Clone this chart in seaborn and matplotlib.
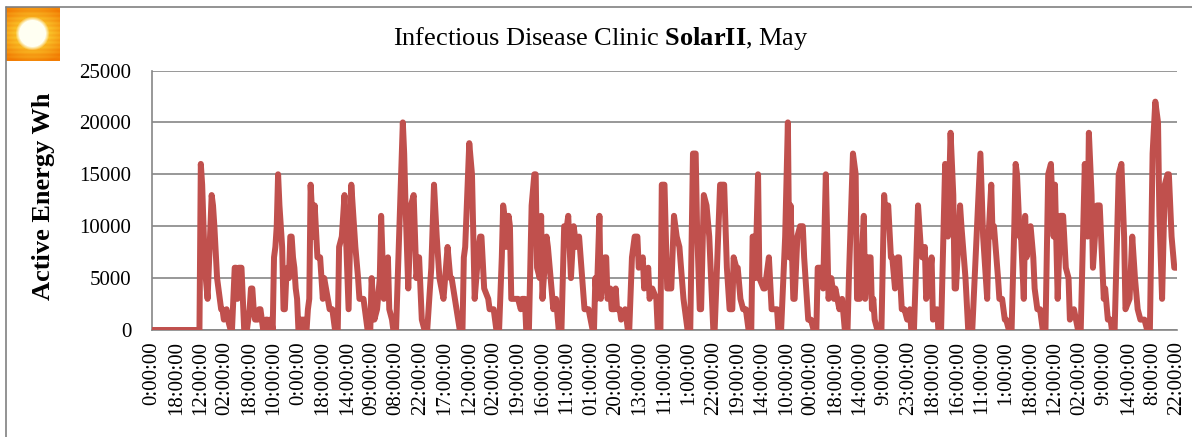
import numpy as np
import pandas as pd
import matplotlib
matplotlib.use('Agg')
import matplotlib.pyplot as plt
from matplotlib.lines import Line2D
import seaborn as sns

tick_labels = ['0:00:00', '18:00:00', '12:00:00', '02:00:00', '18:00:00', '10:00:00', '0:00:00',
               '18:00:00', '14:00:00', '09:00:00', '08:00:00', '22:00:00', '17:00:00', '12:00:00',
               '02:00:00', '19:00:00', '16:00:00', '11:00:00', '01:00:00', '20:00:00', '13:00:00',
               '11:00:00', '1:00:00', '22:00:00', '19:00:00', '14:00:00', '10:00:00', '00:00:00',
               '18:00:00', '14:00:00', '9:00:00', '23:00:00', '18:00:00', '16:00:00', '11:00:00',
               '1:00:00', '18:00:00', '12:00:00', '02:00:00', '9:00:00', '14:00:00', '8:00:00',
               '22:00:00']
yticks = [0, 5000, 10000, 15000, 20000, 25000]

# (sample number, Wh), 18 samples between labels
part_1 = [(0, 0), (35, 0), (36, 16000), (37, 14000), (39, 6000), (41, 3000), (44, 13000), (45, 12000),
          (46, 10000), (48, 5000), (49, 4000), (51, 2000), (52, 2000), (53, 1000), (55, 2000), (56, 1000),
          (58, 0), (59, 0), (61, 6000), (62, 6000), (63, 3000), (64, 6000), (66, 6000), (68, 0), (70, 0),
          (72, 2000), (73, 4000), (74, 4000), (75, 2000), (76, 1000), (78, 1000), (79, 2000), (80, 2000),
          (81, 1000), (82, 0), (83, 0), (84, 1000), (85, 1000), (86, 0), (87, 1000), (88, 1000), (89, 0),
          (90, 7000), (91, 8000), (92, 10000), (93, 15000), (94, 12000), (95, 10000), (96, 8000), (97, 2000),
          (98, 2000), (99, 5000), (100, 6000), (101, 5000), (102, 9000), (103, 9000), (104, 7000), (105, 6000),
          (106, 4000), (107, 3000), (108, 0), (109, 0), (110, 1000), (112, 1000), (113, 0), (114, 0),
          (115, 2000), (116, 3000), (117, 14000), (119, 9000), (120, 12000), (122, 7000), (124, 7000)]
part_2 = [(126, 3000), (127, 5000), (131, 2000), (133, 2000), (135, 0), (137, 0), (138, 8000), (140, 9000),
          (142, 13000), (145, 2000), (147, 14000), (150, 8000), (152, 5000), (153, 3000), (156, 3000),
          (158, 1000), (159, 0), (161, 0), (162, 5000), (164, 1000), (166, 2000), (168, 5000), (169, 11000),
          (171, 3000), (174, 7000), (175, 2000), (177, 1000), (178, 0), (180, 0), (182, 8000), (185, 20000),
          (186, 17000), (187, 12000), (189, 4000), (191, 12000), (193, 13000), (195, 5000), (197, 7000),
          (199, 1000), (201, 0), (203, 0), (206, 6000), (208, 14000), (210, 9000), (212, 5000), (215, 3000),
          (218, 8000), (220, 5000)]
part_3 = [(221, 5000), (227, 0), (229, 0), (230, 7000), (231, 8000), (234, 18000), (236, 15000), (238, 3000),
          (241, 8000), (242, 9000), (243, 9000), (245, 4000), (248, 3000), (249, 2000), (252, 2000), (254, 0),
          (256, 0), (258, 7000), (259, 12000), (260, 11000), (261, 8000), (263, 11000), (264, 10000),
          (265, 3000), (268, 3000), (270, 3000), (272, 2000), (273, 3000), (275, 3000), (276, 0), (278, 0),
          (280, 12000), (282, 15000), (283, 15000), (284, 6000), (286, 5000), (287, 11000), (288, 3000),
          (291, 9000), (292, 8000), (296, 2000), (298, 3000), (300, 0), (302, 0), (304, 10000), (306, 10000),
          (307, 11000), (309, 5000), (311, 10000), (313, 8000), (315, 9000)]
part_4 = [(319, 2000), (322, 2000), (325, 0), (326, 0), (327, 5000), (328, 3000), (330, 11000), (331, 3000),
          (334, 7000), (335, 7000), (336, 3000), (338, 4000), (339, 2000), (341, 2000), (342, 4000), (343, 2000),
          (345, 2000), (346, 1000), (349, 2000), (351, 0), (352, 0), (354, 7000), (356, 9000), (358, 9000),
          (359, 6000), (362, 7000), (363, 4000), (366, 6000), (367, 3000), (369, 4000), (372, 3000), (373, 0),
          (375, 0), (376, 14000), (378, 14000), (380, 4000), (383, 4000), (385, 11000), (387, 9000), (389, 8000),
          (392, 3000), (395, 0), (397, 0), (399, 17000), (401, 17000), (402, 10000), (404, 2000), (405, 2000),
          (407, 13000), (409, 12000)]
part_5 = [(411, 9000), (414, 0), (415, 0), (419, 14000), (422, 14000), (424, 6000), (426, 2000), (428, 2000),
          (429, 7000), (431, 6000), (432, 6000), (434, 3000), (436, 2000), (438, 2000), (440, 0), (442, 0),
          (443, 9000), (444, 9000), (445, 5000), (447, 15000), (448, 5000), (451, 4000), (452, 4000),
          (455, 7000), (457, 2000), (459, 2000), (461, 2000), (462, 0), (464, 0), (467, 9000), (469, 20000),
          (470, 7000), (471, 12000), (473, 3000), (474, 3000), (476, 9000), (478, 10000), (480, 10000),
          (481, 7000), (484, 1000), (486, 1000), (488, 0), (490, 0), (491, 6000), (493, 6000), (495, 4000),
          (497, 15000), (499, 3000), (501, 5000), (503, 3000), (504, 4000), (507, 2000)]
part_6 = [(509, 3000), (511, 0), (513, 0), (514, 5000), (517, 17000), (519, 15000), (520, 3000), (522, 3000),
          (525, 11000), (526, 3000), (528, 7000), (530, 7000), (531, 2000), (532, 3000), (533, 1000), (535, 0),
          (538, 0), (540, 13000), (541, 11000), (543, 12000), (545, 7000), (546, 7000), (548, 4000), (550, 7000),
          (551, 7000), (553, 2000), (555, 2000), (557, 1000), (559, 2000), (560, 0), (562, 0), (565, 12000),
          (567, 8000), (568, 7000), (570, 8000), (571, 3000), (573, 4000), (575, 7000), (576, 1000), (579, 2000),
          (580, 0), (582, 0), (585, 16000), (587, 9000), (589, 19000), (591, 13000), (592, 4000), (593, 4000),
          (596, 12000), (597, 10000), (600, 5000), (602, 0), (605, 0)]
part_7 = [(611, 17000), (613, 9000), (616, 3000), (617, 9000), (619, 14000), (620, 9000), (621, 10000),
          (624, 5000), (625, 3000), (627, 3000), (629, 1000), (630, 1000), (632, 0), (634, 0), (636, 10000),
          (637, 16000), (638, 15000), (640, 9000), (641, 9000), (643, 3000), (644, 11000), (645, 7000),
          (648, 10000), (650, 7000), (651, 4000), (653, 2000), (655, 2000), (657, 0), (659, 0), (661, 15000),
          (663, 16000), (665, 9000), (666, 14000), (668, 3000), (670, 11000), (672, 11000), (674, 6000),
          (676, 5000), (677, 1000), (680, 2000), (683, 0), (685, 0)]
part_8 = [(688, 16000), (690, 9000), (691, 19000), (693, 13000), (694, 6000), (697, 12000), (699, 12000),
          (702, 3000), (703, 4000), (705, 1000), (707, 1000), (708, 0), (710, 0), (713, 15000), (715, 16000),
          (717, 9000), (718, 2000), (721, 3000), (723, 9000), (725, 5000), (727, 2000), (729, 1000), (732, 1000),
          (734, 0), (736, 0), (738, 17000), (740, 22000), (742, 20000), (743, 11000), (745, 3000), (747, 14000),
          (749, 15000), (750, 15000), (752, 9000), (754, 6000), (756, 6000)]

df = pd.DataFrame(part_1 + part_2 + part_3 + part_4 + part_5 + part_6 + part_7 + part_8,
                  columns=['sample', 'active_wh'])

sns.set_theme(style='white')
plt.rcParams['font.family'] = ['Liberation Serif', 'DejaVu Serif']
plt.rcParams['mathtext.fontset'] = 'custom'
plt.rcParams['mathtext.rm'] = 'Liberation Serif'
plt.rcParams['mathtext.bf'] = 'Liberation Serif:bold'

W, H = 1192, 437
fig = plt.figure(figsize=(W / 100, H / 100), dpi=100)
ax = fig.add_axes([152 / W, (H - 330) / H, (1177 - 152) / W, 259.5 / H])

sns.lineplot(data=df, x='sample', y='active_wh', ax=ax, color='#C0504D', linewidth=4.3,
             estimator=None, sort=False, solid_joinstyle='round', solid_capstyle='round', zorder=3)

ax.set_xlim(0, 756)
ax.set_ylim(0, 25000)
ax.set_xticks(np.arange(len(tick_labels)) * 18)
ax.set_xticklabels(tick_labels, rotation=90, fontsize=15, color='black')
ax.set_yticks(yticks)
ax.set_yticklabels([str(v) for v in yticks], fontsize=15, color='black')
ax.tick_params(axis='both', length=0)
ax.tick_params(axis='x', pad=8)
ax.tick_params(axis='y', pad=15)
ax.grid(axis='y', color='#868686', linewidth=1.2)
ax.set_axisbelow(True)
sns.despine(ax=ax, top=True, right=True)
for side in ['left', 'bottom']:
    ax.spines[side].set_color('#868686')
    ax.spines[side].set_linewidth(1.2)

ax.set_xlabel('')
ax.set_ylabel('')
fig.text(44 / W, 1 - 196 / H, 'Active Energy Wh', rotation=90, fontsize=19, fontweight='bold',
         ha='center', va='center', color='black')
fig.text(601 / W, 1 - 39 / H, r'Infectious Disease Clinic $\mathbf{SolarII}$, May', fontsize=19,
         ha='center', va='center', color='black')

# outer frame of the slide
fig.add_artist(Line2D([6 / W, 6 / W], [0, 1 - 6.5 / H], color='#808080', linewidth=1.2))
fig.add_artist(Line2D([6 / W, 1], [1 - 6.5 / H, 1 - 6.5 / H], color='#808080', linewidth=1.2))

# sun icon
icon = fig.add_axes([6 / W, (H - 61) / H, 54 / W, 54 / H])
yy, xx = np.mgrid[0:54, 0:54]
dist = np.hypot(xx - 26, yy - 26)
glow = np.clip(1 - np.hypot((xx - 26) * 0.75, yy - 26) / 30, 0, 1)
glow = glow + 0.06 * np.sin(yy * 1.3)
rgb = np.dstack([0.95 + 0.05 * glow, 0.50 + 0.42 * glow, 0.02 + 0.22 * glow])
sun = np.clip((17 - dist) / 4, 0, 1)[..., None]
rgb = rgb * (1 - sun) + np.array([1.0, 1.0, 0.95]) * sun
icon.imshow(np.clip(rgb, 0, 1), aspect='auto', interpolation='bilinear')
icon.axis('off')

fig.savefig('out.png', dpi=100)
